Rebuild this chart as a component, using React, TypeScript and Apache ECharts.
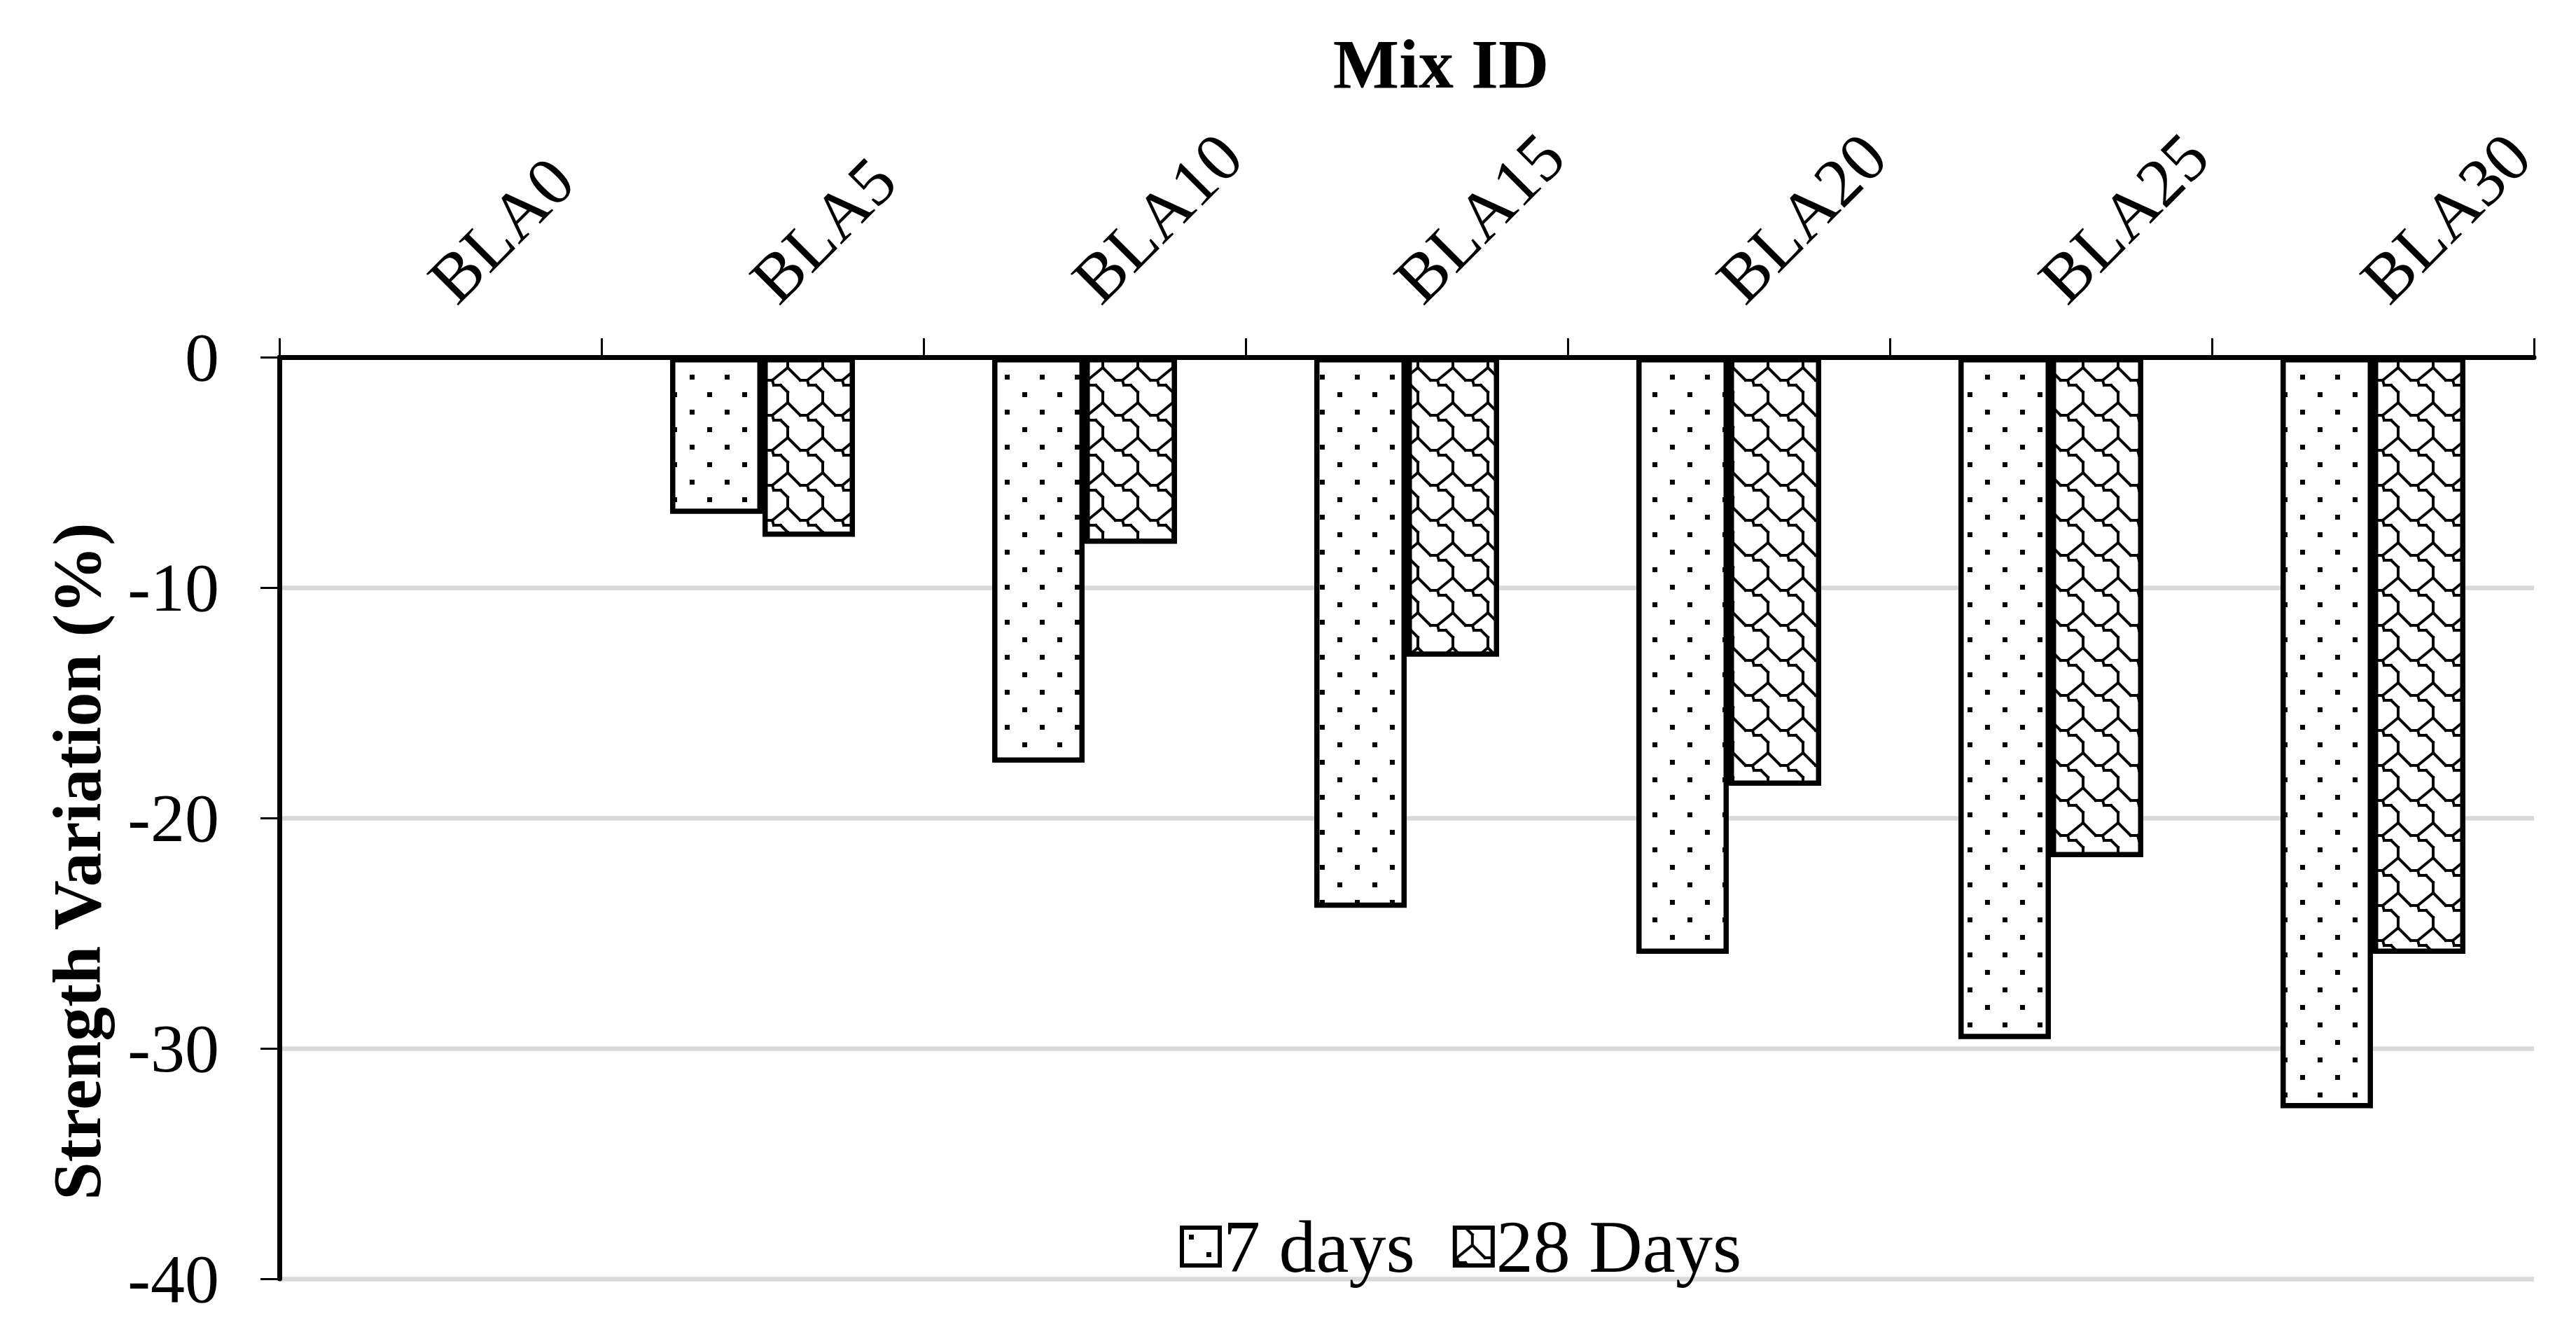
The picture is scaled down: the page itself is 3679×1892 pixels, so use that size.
import React, { useEffect, useRef } from 'react';
import * as echarts from 'echarts';

const categories = ['BLA0', 'BLA5', 'BLA10', 'BLA15', 'BLA20', 'BLA25', 'BLA30'];
const days7 = [0, -6.8, -17.6, -23.9, -25.9, -29.6, -32.6];
const days28 = [0, -7.8, -8.1, -13.0, -18.6, -21.7, -25.9];
const seriesNames = ['7 days', '28 Days'];
const yMin = -40;
const yMax = 0;
const yInterval = 10;
const xTitle = 'Mix ID';
const yTitle = 'Strength Variation (%)';

const FONT = '"Liberation Serif", "Times New Roman", serif';

function makeDots(): HTMLCanvasElement {
  const c = document.createElement('canvas');
  c.width = 50;
  c.height = 50;
  const g = c.getContext('2d')!;
  g.fillStyle = '#fff';
  g.fillRect(0, 0, 50, 50);
  g.fillStyle = '#000';
  g.fillRect(10, 10, 7, 7);
  g.fillRect(35, 35, 7, 7);
  return c;
}

function makeShingle(): HTMLCanvasElement {
  const c = document.createElement('canvas');
  c.width = 50;
  c.height = 50;
  const g = c.getContext('2d')!;
  g.fillStyle = '#fff';
  g.fillRect(0, 0, 50, 50);
  g.strokeStyle = '#000';
  g.lineWidth = 4;
  g.lineCap = 'square';
  g.lineJoin = 'miter';
  const segs = [
    [[25, 10], [25, 25]],
    [[25, 25], [43, 43]],
    [[43, 43], [53, 43]],
    [[53, 43], [55, 50]],
    [[55, 50], [65, 50]],
    [[65, 50], [75, 60]],
    [[53, 43], [75, 25]],
  ];
  for (const dx of [-50, 0, 50]) {
    for (const dy of [-50, 0, 50]) {
      g.beginPath();
      for (const [a, b] of segs) {
        g.moveTo(a[0] + dx, a[1] + dy);
        g.lineTo(b[0] + dx, b[1] + dy);
      }
      g.stroke();
    }
  }
  return c;
}

export default function App() {
  const ref = useRef<HTMLDivElement>(null);

  useEffect(() => {
    if (!ref.current) return;
    const chart = echarts.init(ref.current, null, { renderer: 'svg' });
    const dots = makeDots();
    const shingle = makeShingle();
    const patterns = [
      { image: dots, repeat: 'repeat', imageWidth: 50, imageHeight: 50 },
      { image: shingle, repeat: 'repeat', imageWidth: 50, imageHeight: 50 },
    ];
    const values = [days7, days28];

    chart.setOption({
      animation: false,
      backgroundColor: '#ffffff',
      textStyle: { fontFamily: FONT },
      grid: { left: 399, right: 60, top: 510, bottom: 66, containLabel: false },
      xAxis: {
        type: 'category',
        data: categories,
        position: 'top',
        z: 5,
        axisLine: { onZero: false, lineStyle: { color: '#000', width: 7 } },
        axisTick: { show: true, length: 27, lineStyle: { color: '#000', width: 3 } },
        axisLabel: {
          rotate: -45,
          interval: 0,
          margin: 95,
          fontSize: 98,
          color: '#000',
          fontFamily: FONT,
        },
        splitLine: { show: false },
      },
      yAxis: {
        type: 'value',
        min: yMin,
        max: yMax,
        interval: yInterval,
        axisLine: { show: true, lineStyle: { color: '#000', width: 7 } },
        axisTick: { show: true, length: 27, lineStyle: { color: '#000', width: 3 } },
        axisLabel: { margin: 86, fontSize: 98, color: '#000', fontFamily: FONT },
        splitLine: { show: true, lineStyle: { color: '#d9d9d9', width: 6.5 } },
      },
      legend: {
        data: seriesNames,
        left: 1680,
        top: 1722,
        itemWidth: 54,
        itemHeight: 54,
        itemGap: 54,
        icon: 'rect',
        itemStyle: { borderColor: '#000', borderWidth: 6 },
        textStyle: { fontSize: 106, color: '#000', fontFamily: FONT, padding: [0, 0, 0, 0] },
      },
      graphic: [
        {
          type: 'text',
          x: 2058,
          y: 91,
          style: {
            text: xTitle,
            font: `bold 100px ${FONT}`,
            fill: '#000',
            textAlign: 'center',
            textVerticalAlign: 'middle',
          },
        },
        {
          type: 'text',
          x: 110,
          y: 1230,
          rotation: Math.PI / 2,
          style: {
            text: yTitle,
            font: `bold 98px ${FONT}`,
            fill: '#000',
            textAlign: 'center',
            textVerticalAlign: 'middle',
          },
        },
      ],
      series: seriesNames.map((name, i) => ({
        name,
        type: 'bar',
        data: values[i].map((v) => (v === 0 ? { value: v, itemStyle: { borderWidth: 0 } } : v)),
        barWidth: 132,
        barGap: '0%',
        itemStyle: {
          color: patterns[i],
          borderColor: '#000',
          borderWidth: 7.5,
        },
        emphasis: { disabled: true },
      })),
    });

    return () => {
      chart.dispose();
    };
  }, []);

  return (
    <div
      ref={ref}
      style={{ position: 'fixed', left: 0, top: 0, width: 3679, height: 1892, background: '#fff' }}
    />
  );
}
